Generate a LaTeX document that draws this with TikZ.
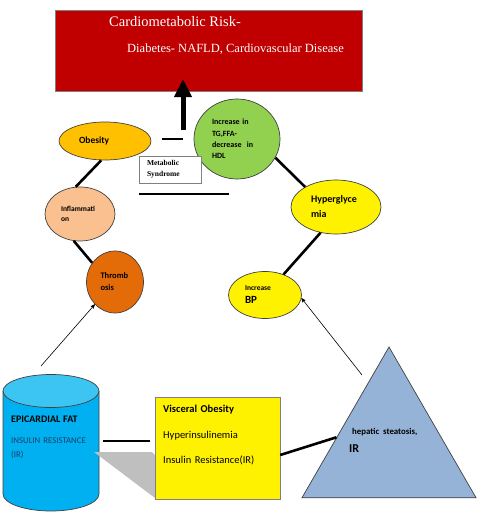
\documentclass[tikz,border=0pt]{standalone}
\usepackage{fontspec}
\setmainfont{Liberation Serif}
\setsansfont{Carlito}
\usetikzlibrary{arrows,arrows.meta,shapes.geometric}
\definecolor{riskred}{HTML}{C00000}
\definecolor{obesorange}{HTML}{FFC000}
\definecolor{lipidgreen}{HTML}{92D050}
\definecolor{inflpeach}{HTML}{FAC090}
\definecolor{thrombrown}{HTML}{E36C09}
\definecolor{epiblue}{HTML}{00B0F0}
\definecolor{epitop}{HTML}{3CC4F2}
\definecolor{hepblue}{HTML}{95B3D7}
\definecolor{irnavy}{HTML}{1B3F66}
\def\rim{black!75}

\begin{document}
\begin{tikzpicture}[x=1pt,y=-1pt,>=stealth',
  main node/.style={ellipse,draw=\rim,line width=0.7pt,inner sep=0pt,align=left,font=\sffamily\bfseries},
  plain text/.style={inner sep=0pt,align=left},
  thick link/.style={line width=2.6pt},
  thin link/.style={->,line width=0.6pt}]
  \useasboundingbox (0,0) rectangle (477,518);
  \begin{scope}
  	% risk box on top
  	\node[draw=black!50,fill=riskred,minimum width=307pt,minimum height=81pt] (risk) at (208.5,50.5) {};
  	\node[plain text,anchor=west,text=white,font=\fontsize{14.5}{17}\selectfont] (risk title) at (109,22) {Cardiometabolic Risk-};
  	\node[plain text,anchor=west,text=white,font=\fontsize{12.5}{15}\selectfont] (risk list) at (127,49) {Diabetes- NAFLD, Cardiovascular Disease};

  	% ring of metabolic syndrome
  	\node[main node,fill=obesorange,minimum width=92pt,minimum height=38pt,text width=52pt,font=\sffamily\bfseries\fontsize{9.5}{11}\selectfont] (obes) at (105,141) {Obesity};
  	\node[main node,fill=lipidgreen,minimum width=86pt,minimum height=80pt,text width=50pt,font=\sffamily\bfseries\fontsize{8}{11.3}\selectfont] (lipid) at (237,139) {Increase in\\TG,FFA-\\decrease~ in\\HDL};
  	\node[main node,fill=inflpeach,minimum width=70pt,minimum height=54pt,text width=38pt,font=\sffamily\bfseries\fontsize{7.5}{10}\selectfont] (infl) at (80,214) {Inflammati\\on};
  	\node[main node,fill=thrombrown,minimum width=57pt,minimum height=62pt,text width=29pt,font=\sffamily\bfseries\fontsize{8.5}{12}\selectfont] (throm) at (115,282) {Thromb\\osis};
  	\node[main node,fill=yellow,minimum width=90pt,minimum height=54pt,text width=50pt,font=\sffamily\bfseries\fontsize{10}{15}\selectfont] (hyper) at (336,207) {Hyperglyce\\mia};
  	\node[main node,fill=yellow,minimum width=73pt,minimum height=47pt,text width=40pt,font=\sffamily\bfseries\fontsize{11}{13}\selectfont] (bp) at (265,295) {{\fontsize{7.5}{9}\selectfont Increase}\\BP};

  	\node[draw=black!50,fill=white,minimum width=62pt,minimum height=27pt,plain text,text width=46pt,font=\bfseries\fontsize{7.5}{11}\selectfont] (ms) at (170,169.5) {Metabolic\\Syndrome};
  	\draw[line width=2.5pt] (162,139) -- (183,139);
  	\draw[line width=2.2pt] (139,194) -- (229,194);

  	% base row: epicardial fat drum
  	\fill[epiblue] (3,391) -- (3,494) arc[start angle=180,end angle=0,x radius=48,y radius=17] -- (99,391) -- cycle;
  	\draw[\rim,line width=0.7pt] (3,391) -- (3,494) arc[start angle=180,end angle=0,x radius=48,y radius=17] -- (99,391);
  	\filldraw[fill=epitop,draw=\rim,line width=0.7pt] (51,391) ellipse[x radius=48,y radius=16.5];
  	\coordinate (epi top) at (51,375);
  	\coordinate (epi east) at (99,443);
  	\node[plain text,anchor=north west,text width=88pt,font=\sffamily\fontsize{8.8}{14}\selectfont] (epi) at (11,416) {{\bfseries\fontsize{10}{12}\selectfont EPICARDIAL FAT}\\[7pt]\textcolor{irnavy}{INSULIN RESISTANCE}\\\textcolor{irnavy}{(IR)}};
  	\fill[black!25] (94,452) -- (152,452) -- (155,455) -- (155,498) -- cycle;
  	\node[draw=black!50,fill=yellow,minimum width=125pt,minimum height=102pt] (visc) at (217.5,448) {};
  	\node[plain text,anchor=north west,text width=115pt,font=\sffamily\fontsize{10.5}{25.5}\selectfont] (visc text) at (163,405) {{\bfseries Visceral Obesity}\\Hyperinsulinemia\\Insulin Resistance(IR)};
  	\node[regular polygon,regular polygon sides=3,minimum size=201pt,draw=\rim,line width=0.7pt,fill=hepblue,inner sep=0pt] (hep) at (389,447.5) {};
  	\node[plain text,anchor=north west,text width=80pt,font=\sffamily\bfseries\fontsize{12}{18}\selectfont] (hep text) at (349,428.5) {\hspace{3pt}{\fontsize{8.8}{10}\selectfont hepatic steatosis,}\\IR};

  	\coordinate (ms base) at (183,130);
  	\coordinate (epi tip) at ([shift={(-10,-9)}]epi top);
  	\coordinate (hep tip) at (362,375);

  	\draw[line width=5pt,-{Triangle[width=17pt,length=18pt]}] (ms base) -- ([shift={(-25.5,-12)}]risk.south);
  	\path[thick link]
    	(obes.-101) edge (infl.99)
    	(infl.-103) edge (throm.140)
    	(lipid.-26) edge (hyper.147)
    	(hyper.-121) edge (bp.48)
    	([shift={(4,-2)}]epi east) edge ([shift={(-5,-7)}]visc.west)
    	([yshift=-7pt]visc.east) edge (hep.169);
  	\path[thin link]
    	(epi tip) edge (throm.-132)
    	(hep tip) edge (bp.-5);
  \end{scope}
\end{tikzpicture}
\end{document}
